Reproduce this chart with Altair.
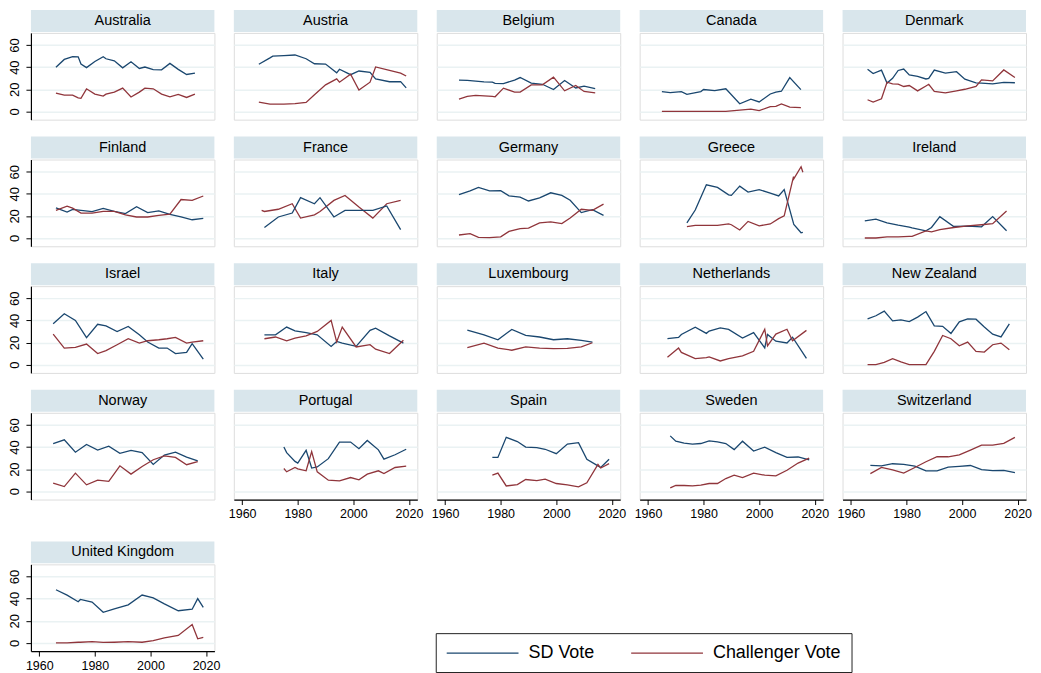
import altair as alt
import pandas as pd

FONT = "Liberation Sans"
SD_COLOR = "#1a476f"
CH_COLOR = "#90353b"
HEAD_FILL = "#d9e6ec"
GRID_COLOR = "#eaf2f3"

COUNTRIES = ["Australia", "Austria", "Belgium", "Canada", "Denmark",
             "Finland", "France", "Germany", "Greece", "Ireland",
             "Israel", "Italy", "Luxembourg", "Netherlands", "New Zealand",
             "Norway", "Portugal", "Spain", "Sweden", "Switzerland",
             "United Kingdom"]

AUS_YEARS = [1966, 1969, 1972, 1974, 1975, 1977, 1980, 1983, 1984, 1987, 1990, 1993, 1996, 1998, 2001, 2004, 2007, 2010, 2013, 2016]
AUS_SD = [40.0, 47.0, 49.6, 49.3, 42.8, 39.6, 45.1, 49.5, 47.6, 45.8, 39.4, 44.9, 38.8, 40.1, 37.8, 37.6, 43.4, 38.0, 33.4, 34.7]
AUS_CH = [16.5, 14.6, 14.6, 12.2, 11.8, 20.4, 15.6, 13.8, 15.6, 17.4, 21.0, 13.0, 17.4, 21.0, 20.4, 15.6, 13.2, 15.3, 12.6, 15.6]

AUT_YEARS = [1966, 1970, 1971, 1975, 1979, 1983, 1986, 1990, 1994, 1995, 1999, 2002, 2006, 2008, 2013, 2017, 2019]
AUT_SD = [42.6, 48.4, 50.0, 50.4, 51.0, 47.6, 43.1, 42.8, 34.9, 38.1, 33.2, 36.5, 35.3, 29.3, 26.8, 26.9, 21.2]
AUT_CH = [8.4, 6.6, 6.6, 6.6, 7.0, 8.1, 15.0, 24.0, 29.4, 26.4, 33.6, 19.2, 26.4, 40.2, 37.0, 34.5, 32.0]

BEL_YEARS = [1965, 1968, 1971, 1974, 1977, 1978, 1981, 1985, 1987, 1991, 1995, 1999, 2003, 2007, 2010, 2014]
BEL_SD = [28.3, 28.0, 27.3, 26.7, 26.4, 25.4, 25.1, 28.3, 30.6, 25.5, 24.5, 19.7, 27.9, 21.2, 22.9, 20.5]
BEL_CH = [11.1, 13.5, 14.4, 14.0, 13.5, 13.2, 21.0, 17.4, 17.4, 24.0, 24.0, 31.0, 18.6, 23.4, 18.0, 16.8]

CAN_YEARS = [1965, 1968, 1972, 1974, 1979, 1980, 1984, 1988, 1993, 1997, 2000, 2004, 2006, 2008, 2011, 2015]
CAN_SD = [17.9, 17.0, 17.8, 15.4, 17.9, 19.8, 18.8, 20.4, 6.9, 11.0, 8.5, 15.7, 17.5, 18.2, 30.6, 19.7]
CAN_CH = [0.0, 0.0, 0.0, 0.0, 0.0, 0.0, 0.0, 0.0, 1.2, 2.0, 0.6, 4.3, 4.5, 6.8, 3.9, 3.4]

DNK_YEARS = [1966, 1968, 1971, 1973, 1975, 1977, 1979, 1981, 1984, 1987, 1988, 1990, 1994, 1998, 2001, 2005, 2007, 2011, 2015, 2019]
DNK_SD = [38.2, 34.2, 37.3, 25.6, 29.9, 37.0, 38.3, 32.9, 31.6, 29.3, 29.8, 37.4, 34.6, 35.9, 29.1, 25.8, 25.5, 24.8, 26.3, 25.9]
DNK_CH = [10.5, 8.4, 11.4, 26.4, 24.9, 24.6, 22.5, 23.4, 18.5, 23.0, 24.5, 18.0, 16.8, 18.6, 20.0, 22.5, 28.5, 27.6, 37.5, 30.6]

FIN_YEARS = [1966, 1970, 1972, 1975, 1979, 1983, 1987, 1991, 1995, 1999, 2003, 2007, 2011, 2015, 2019]
FIN_SD = [27.2, 23.4, 25.8, 24.9, 23.9, 26.7, 24.1, 22.1, 28.3, 22.9, 24.5, 21.4, 19.1, 16.5, 17.7]
FIN_CH = [25.0, 28.8, 27.0, 22.5, 22.5, 24.0, 24.0, 21.0, 19.0, 19.0, 20.4, 21.6, 34.8, 34.0, 38.0]

FRA_YEARS = [1967, 1968, 1973, 1978, 1981, 1986, 1988, 1993, 1997, 2002, 2007, 2012, 2017]
FRA_SD = [None, 9.5, 19.0, 22.6, 36.5, 31.0, 36.5, 19.0, 25.0, 25.0, 25.0, 29.0, 7.5]
FRA_CH = [25.0, 24.0, 26.0, 31.0, 18.0, 21.0, 24.0, 34.0, 38.5, 28.0, 18.0, 31.0, 34.0]

DEU_YEARS = [1965, 1969, 1972, 1976, 1980, 1983, 1987, 1990, 1994, 1998, 2002, 2005, 2009, 2013, 2017]
DEU_SD = [39.3, 42.7, 45.8, 42.6, 42.9, 38.2, 37.0, 33.5, 36.4, 40.9, 38.5, 34.2, 23.0, 25.7, 20.5]
DEU_CH = [2.7, 3.9, 0.5, 0.3, 1.0, 6.0, 8.5, 9.0, 13.6, 14.5, 13.0, 18.0, 26.0, 25.0, 30.6]

GRC_YEARS = [1974, 1977, 1981, 1985, 1989, 1990, 1993, 1996, 2000, 2004, 2007, 2009, 2012.35, 2012.46, 2015.07, 2015.72]
GRC_SD = [13.6, 25.3, 48.1, 45.8, 39.1, 38.6, 46.9, 41.5, 43.8, 40.6, 38.1, 43.9, 13.2, 12.3, 4.7, 5.0]
GRC_CH = [10.3, 11.5, 11.5, 11.5, 12.7, 12.0, 7.2, 15.0, 11.0, 12.7, 17.5, 20.0, 55.5, 53.5, 64.5, 59.5]

IRL_YEARS = [1965, 1969, 1973, 1977, 1981, 1982, 1987, 1989, 1992, 1997, 2002, 2007, 2011, 2016]
IRL_SD = [15.4, 17.0, 13.7, 11.6, 9.9, 9.1, 6.4, 9.5, 19.3, 10.4, 10.8, 10.1, 19.4, 6.6]
IRL_CH = [0.0, 0.0, 1.0, 1.0, 1.5, 1.5, 6.5, 5.5, 7.5, 9.5, 11.0, 12.0, 13.0, 24.5]

ISR_YEARS = [1965, 1969, 1973, 1977, 1981, 1984, 1988, 1992, 1996, 1999, 2003, 2006, 2009, 2013, 2015, 2019]
ISR_SD = [37.0, 46.0, 40.0, 24.5, 36.5, 35.0, 30.0, 34.5, 27.0, 20.5, 15.0, 15.0, 10.0, 11.0, 19.0, 5.0]
ISR_CH = [27.6, 15.0, 15.6, 18.6, 10.0, 12.6, 18.0, 23.4, 19.5, 21.6, 22.5, 23.4, 24.6, 19.5, 20.4, 21.6]

ITA_YEARS = [1968, 1972, 1976, 1979, 1983, 1987, 1992, 1994, 1996, 2001, 2006, 2008, 2013, 2018]
ITA_SD = [27.0, 27.0, 34.0, 30.6, 29.0, 27.0, 16.5, 21.0, 19.5, 16.5, 31.0, 33.0, 26.0, 19.5]
ITA_CH = [23.4, 25.0, 21.5, 24.0, 26.0, 30.0, 40.0, 20.5, 34.0, 16.0, 18.0, 14.0, 10.0, 22.0]

LUX_YEARS = [1968, 1974, 1979, 1984, 1989, 1994, 1999, 2004, 2009, 2013]
LUX_SD = [31.2, 27.0, 22.5, 31.8, 26.4, 25.0, 22.5, 23.4, 22.0, 20.4]
LUX_CH = [15.3, 19.5, 15.0, 13.0, 16.0, 15.0, 14.4, 14.7, 16.0, 19.8]

NLD_YEARS = [1967, 1971, 1972, 1977, 1981, 1982, 1986, 1989, 1994, 1998, 2002, 2003, 2006, 2010, 2012, 2017]
NLD_SD = [23.6, 24.6, 27.3, 33.8, 28.3, 30.4, 33.3, 31.9, 24.0, 29.0, 15.1, 27.3, 21.2, 19.6, 24.8, 5.7]
NLD_CH = [6.6, 15.0, 11.0, 5.4, 6.3, 7.0, 3.3, 5.4, 8.0, 12.0, 32.0, 17.0, 27.6, 32.0, 21.6, 31.0]

NZL_YEARS = [1966, 1969, 1972, 1975, 1978, 1981, 1984, 1987, 1990, 1993, 1996, 1999, 2002, 2005, 2008, 2011, 2014, 2017]
NZL_SD = [41.4, 44.2, 48.4, 39.6, 40.4, 39.0, 43.0, 48.0, 35.1, 34.7, 28.2, 38.7, 41.3, 41.1, 34.0, 27.5, 25.1, 36.9]
NZL_CH = [0.0, 0.0, 2.0, 5.4, 2.4, 0.0, 0.0, 0.0, 12.0, 26.4, 23.4, 17.0, 20.4, 12.0, 11.4, 18.0, 19.5, 13.5]

NOR_YEARS = [1965, 1969, 1973, 1977, 1981, 1985, 1989, 1993, 1997, 2001, 2005, 2009, 2013, 2017]
NOR_SD = [43.1, 46.5, 35.3, 42.3, 37.2, 40.8, 34.3, 36.9, 35.0, 24.3, 32.7, 35.4, 30.8, 27.4]
NOR_CH = [7.3, 4.2, 16.4, 5.8, 10.0, 9.0, 23.0, 15.5, 22.4, 28.5, 32.0, 30.6, 24.0, 26.7]

PRT_YEARS = [1975, 1976, 1979, 1980, 1983, 1985, 1987, 1991, 1995, 1999, 2002, 2005, 2009, 2011, 2015, 2019]
PRT_SD = [40.0, 35.0, 27.0, 25.5, 37.0, 21.0, 22.0, 29.5, 44.5, 44.5, 38.5, 46.0, 37.5, 29.0, 33.0, 38.0]
PRT_CH = [20.6, 17.6, 21.5, 20.3, 18.5, 35.8, 17.6, 10.0, 9.4, 12.4, 10.3, 15.5, 18.5, 16.0, 21.5, 22.7]

ESP_YEARS = [1977, 1979, 1982, 1986, 1989, 1993, 1996, 2000, 2004, 2008, 2011, 2015, 2016, 2019]
ESP_SD = [30.6, 30.6, 48.8, 45.0, 40.0, 39.4, 38.0, 34.0, 42.7, 44.0, 29.0, 23.0, 21.5, 29.0]
ESP_CH = [14.5, 16.4, 4.8, 6.0, 10.6, 9.7, 11.0, 7.0, 5.8, 4.0, 7.6, 24.2, 21.0, 25.0]

SWE_YEARS = [1968, 1970, 1973, 1976, 1979, 1982, 1985, 1988, 1991, 1994, 1998, 2002, 2006, 2010, 2014, 2018]
SWE_SD = [50.1, 45.3, 43.6, 42.7, 43.2, 45.6, 44.7, 43.2, 37.7, 45.3, 36.4, 39.9, 35.0, 30.7, 31.0, 28.3]
SWE_CH = [3.0, 5.2, 5.2, 4.8, 5.5, 7.0, 7.0, 11.5, 14.5, 12.4, 16.4, 14.5, 14.0, 19.0, 25.5, 30.0]

CHE_YEARS = [1967, 1971, 1975, 1979, 1983, 1987, 1991, 1995, 1999, 2003, 2007, 2011, 2015, 2019]
CHE_SD = [23.5, 22.9, 24.9, 24.4, 22.8, 18.4, 18.5, 21.8, 22.5, 23.3, 19.5, 18.7, 18.8, 16.8]
CHE_CH = [16.0, 21.5, 19.4, 16.4, 21.5, 26.7, 31.2, 31.2, 33.0, 37.3, 41.8, 41.8, 43.3, 48.8]

GBR_YEARS = [1966, 1970, 1974, 1974.8, 1979, 1983, 1987, 1992, 1997, 2001, 2005, 2010, 2015, 2017, 2019]
GBR_SD = [48.0, 43.1, 37.2, 39.2, 36.9, 27.6, 30.8, 34.4, 43.2, 40.7, 35.2, 29.0, 30.4, 40.0, 32.1]
GBR_CH = [0.0, 0.0, 0.5, 0.5, 1.0, 0.3, 0.5, 1.0, 0.5, 2.0, 4.5, 6.6, 16.5, 3.6, 5.0]

SERIES = ["SD Vote", "Challenger Vote"]
Y_TICKS = [0, 20, 40, 60]
X_TICKS = [1960, 1980, 2000, 2020]

ALL = [
    (AUS_YEARS, AUS_SD, AUS_CH), (AUT_YEARS, AUT_SD, AUT_CH), (BEL_YEARS, BEL_SD, BEL_CH),
    (CAN_YEARS, CAN_SD, CAN_CH), (DNK_YEARS, DNK_SD, DNK_CH), (FIN_YEARS, FIN_SD, FIN_CH),
    (FRA_YEARS, FRA_SD, FRA_CH), (DEU_YEARS, DEU_SD, DEU_CH), (GRC_YEARS, GRC_SD, GRC_CH),
    (IRL_YEARS, IRL_SD, IRL_CH), (ISR_YEARS, ISR_SD, ISR_CH), (ITA_YEARS, ITA_SD, ITA_CH),
    (LUX_YEARS, LUX_SD, LUX_CH), (NLD_YEARS, NLD_SD, NLD_CH), (NZL_YEARS, NZL_SD, NZL_CH),
    (NOR_YEARS, NOR_SD, NOR_CH), (PRT_YEARS, PRT_SD, PRT_CH), (ESP_YEARS, ESP_SD, ESP_CH),
    (SWE_YEARS, SWE_SD, SWE_CH), (CHE_YEARS, CHE_SD, CHE_CH), (GBR_YEARS, GBR_SD, GBR_CH),
]

rows = []
for name, (yrs, sd, ch) in zip(COUNTRIES, ALL):
    for yr, a, b in zip(yrs, sd, ch):
        if a is not None:
            rows.append({"country": name, "year": yr, "series": SERIES[0], "vote": a})
        if b is not None:
            rows.append({"country": name, "year": yr, "series": SERIES[1], "vote": b})
df = pd.DataFrame(rows)

W, H = 184, 87
HEAD = 22

# legend symbol: a long horizontal stroke (custom path wider than the unit box)
legend = alt.Legend(
    title=None, orient="none", legendX=406, legendY=602, direction="horizontal",
    symbolType="M-4,0L4,0", symbolSize=324, symbolStrokeWidth=1.3, symbolOffset=27,
    labelFont=FONT, labelFontSize=18, labelColor="black", labelOffset=36,
    columnPadding=33, padding=10, strokeColor="#222222", fillColor="white",
)
color = alt.Color("series:N", scale=alt.Scale(domain=SERIES, range=[SD_COLOR, CH_COLOR]), legend=legend)


def panel(name, first_col, bottom):
    base = alt.Chart(df).transform_filter(alt.datum.country == name)
    if first_col:
        yaxis = alt.Axis(values=Y_TICKS, title=None, grid=True, gridColor=GRID_COLOR, gridWidth=1.5,
                         labelAngle=270, labelAlign="center", labelBaseline="bottom",
                         labelFont=FONT, labelFontSize=13, labelColor="black", labelPadding=4,
                         tickColor="black", tickSize=5, domainColor="black", domainWidth=1.2)
    else:
        yaxis = alt.Axis(values=Y_TICKS, title=None, grid=True, gridColor=GRID_COLOR, gridWidth=1.5,
                         labels=False, ticks=False, domain=False)
    if bottom:
        xaxis = alt.Axis(values=X_TICKS, format="d", title=None, grid=False,
                         labelFont=FONT, labelFontSize=12.5, labelColor="black", labelPadding=3,
                         tickColor="black", tickSize=5, domainColor="black", domainWidth=1.2)
    else:
        xaxis = None
    lines = base.mark_line(strokeWidth=1.3).encode(
        x=alt.X("year:Q", scale=alt.Scale(domain=[1957, 2023], nice=False, zero=False), axis=xaxis),
        y=alt.Y("vote:Q", scale=alt.Scale(domain=[-7.5, 71], nice=False, zero=False), axis=yaxis),
        color=color,
    )
    agg = base.transform_aggregate(n="count()", groupby=["country"])
    head = agg.mark_rect(color=HEAD_FILL).encode(
        x=alt.value(0), x2=alt.value(W), y=alt.value(-HEAD - 1), y2=alt.value(-1))
    txt = agg.mark_text(font=FONT, fontSize=14.5, color="black", baseline="middle").encode(
        text="country:N", x=alt.value(W / 2), y=alt.value(-HEAD / 2 - 1))
    return alt.layer(head, txt, lines).properties(width=W, height=H)


bottom_set = {"Portugal", "Spain", "Sweden", "Switzerland", "United Kingdom"}
row_charts = []
for r in range(5):
    names = COUNTRIES[r * 5:(r + 1) * 5]
    panels = [panel(n, i == 0, n in bottom_set) for i, n in enumerate(names)]
    row_charts.append(alt.hconcat(*panels, spacing=19.5, bounds="flush"))

upper = alt.vconcat(*row_charts[:4], spacing=15)
chart = alt.vconcat(upper, row_charts[4], spacing=20).properties(
    padding={"left": 0, "top": 0, "right": 0, "bottom": 0}
).configure_view(strokeWidth=0).configure(font=FONT)

chart.save("out.html", embed_options={"renderer": "svg", "actions": False})
